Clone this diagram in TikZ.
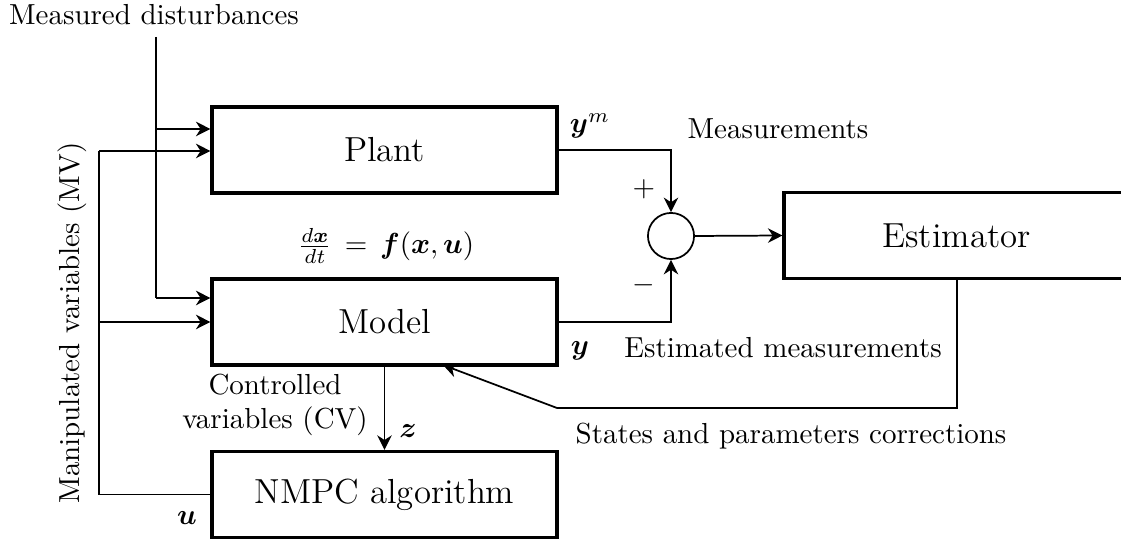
\documentclass[tikz,border=0pt]{standalone}
\usepackage{amsmath}
\usetikzlibrary{arrows.meta}
\begin{document}
\begin{tikzpicture}[x=0.345pt,y=-0.345pt,
  blockbox/.style={draw,line width=1.1pt,minimum width=119pt,minimum height=29.7pt,inner sep=0pt,font=\large},
  sumcirc/.style={draw,semithick,circle,minimum size=15.9pt,inner sep=0pt},
  conn/.style={semithick},
  arr/.style={semithick,-{Stealth[length=5pt,width=5pt,inset=1.6pt]}},
  lbl/.style={inner sep=0pt}]
\useasboundingbox (0,0) rectangle (1121,540);
\clip (0,0) rectangle (1121,540);
% blocks
\node[blockbox] (plant) at (384.5,150) {Plant};
\node[blockbox] (model) at (384.5,322) {Model};
\node[blockbox] (nmpc) at (384.5,494.5) {NMPC algorithm};
\node[blockbox] (est) at (956.5,235.5) {Estimator};
\node[sumcirc] (sum) at (671,236) {};
% coordinates
\coordinate (dtop) at (156,37);
\coordinate (dP) at (156,129);
\coordinate (dM) at (156,298);
\coordinate (mvP) at (99,151);
\coordinate (mvM) at (99,322);
\coordinate (mvB) at (99,494.5);
\coordinate (pcorner) at (671,150);
\coordinate (mcorner) at (671,322);
\coordinate (ecorner) at (957,408);
\coordinate (ccorner) at (557,408);
\coordinate (ctip) at (443,365);
% disturbances
\draw[conn] (dtop) -- (dM);
\draw[arr] (dP) -- (dP -| plant.west);
\draw[arr] (dM) -- (dM -| model.west);
% manipulated variables
\draw[conn] (nmpc.west) -- (mvB) -- (mvP);
\draw[arr] (mvP) -- (mvP -| plant.west);
\draw[arr] (mvM) -- (mvM -| model.west);
% outputs to summation
\draw[arr] (plant.east) -- (pcorner) -- (sum.north);
\draw[arr] (model.east) -- (mcorner) -- (sum.south);
\draw[arr] (sum.east) -- (est.west);
% estimator corrections
\draw[arr] (est.south -| ecorner) -- (ecorner) -- (ccorner) -- (ctip);
% model to NMPC
\draw[arr] (model.south) -- (nmpc.north);
% labels
\node[lbl] (tmd) at (154,15) {Measured disturbances};
\node[lbl] (tym) at (590,126) {$\boldsymbol{y}^m$};
\node[lbl] (tmeas) at (778,129) {Measurements};
\node[lbl] (tplus) at (644,189) {$+$};
\node[lbl] (tminus) at (644,285) {$-$};
\node[lbl] (tode) at (386,246) {$\frac{d\boldsymbol{x}}{dt}\,=\,\boldsymbol{f}(\boldsymbol{x},\boldsymbol{u})$};
\node[lbl] (ty) at (580,351) {$\boldsymbol{y}$};
\node[lbl] (testm) at (783,348) {Estimated measurements};
\node[lbl] (tspc) at (791,436) {States and parameters corrections};
\node[lbl,align=center] (tcv) at (275,405) {Controlled\\variables (CV)};
\node[lbl] (tz) at (408,431) {$\boldsymbol{z}$};
\node[lbl] (tu) at (187,518) {$\boldsymbol{u}$};
\node[lbl,rotate=90] (tmv) at (72,323) {Manipulated variables (MV)};
\end{tikzpicture}
\end{document}
